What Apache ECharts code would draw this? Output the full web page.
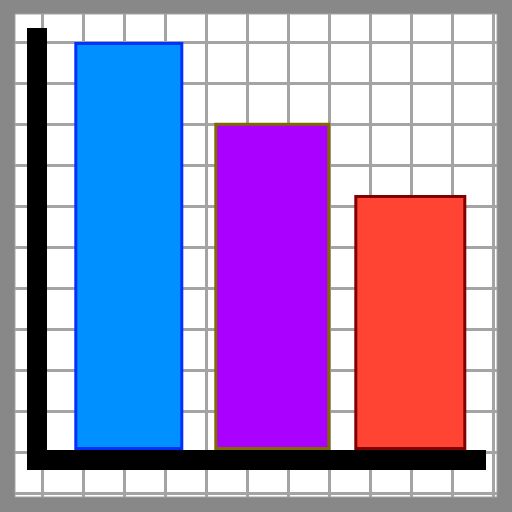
<!DOCTYPE html>
<html>
<head>
<meta charset="utf-8">
<script src="https://cdn.jsdelivr.net/npm/echarts@6/dist/echarts.min.js"></script>
<style>html,body{margin:0;padding:0;background:#888888;}#c{width:512px;height:512px;}</style>
</head>
<body>
<div id="c"></div>
<script>
var categories = ['A', 'B', 'C'];
var values = [9.95, 7.98, 6.22];
var fillColors = ['#0090FF', '#AA00FF', '#FF4433'];
var borderColors = ['#0030FF', '#7F6A00', '#800000'];
var barWidths = [109, 116, 112];
var gridCells = [0, 11];

var chart = echarts.init(document.getElementById('c'), null, {renderer: 'canvas'});
var lineAxis = function (grid, show) {
  return {gridIndex: grid, type: 'value', min: gridCells[0], max: gridCells[1], interval: 1, z: 0,
    axisLine: {show: false}, axisTick: {show: false}, axisLabel: {show: false},
    splitLine: {show: show, lineStyle: {color: '#a4a4a4', width: 3}}};
};
var series = values.map(function (v, i) {
  return {
    type: 'bar', xAxisIndex: 3, yAxisIndex: 3, z: 2,
    barWidth: barWidths[i], barGap: '-100%',
    itemStyle: {color: fillColors[i], borderColor: borderColors[i], borderWidth: 3},
    data: categories.map(function (c, j) { return j === i ? v : '-'; })
  };
});
chart.setOption({
  backgroundColor: '#888888',
  animation: false,
  grid: [
    {left: 15, top: 14, width: 482, height: 483, show: true, backgroundColor: '#ffffff', borderColor: '#a4a4a4', borderWidth: 1},
    {left: 42, top: 14, width: 451, height: 483},
    {left: 15, top: 42, width: 482, height: 451},
    {left: 60.3, top: 40, width: 420, bottom: 62},
    {left: 37, top: 38, right: 36, bottom: 52}
  ],
  xAxis: [
    {gridIndex: 0, type: 'value', show: false},
    lineAxis(1, true),
    lineAxis(2, false),
    {gridIndex: 3, type: 'category', data: categories, show: false},
    {gridIndex: 4, type: 'value', min: 0, max: 1, z: 10,
     axisLine: {show: true, lineStyle: {color: '#000000', width: 20, cap: 'square'}},
     axisTick: {show: false}, axisLabel: {show: false}, splitLine: {show: false}}
  ],
  yAxis: [
    {gridIndex: 0, type: 'value', show: false},
    lineAxis(1, false),
    lineAxis(2, true),
    {gridIndex: 3, type: 'value', min: 0, max: 10, show: false, splitLine: {show: false}},
    {gridIndex: 4, type: 'value', min: 0, max: 1, z: 10,
     axisLine: {show: true, lineStyle: {color: '#000000', width: 20, cap: 'square'}},
     axisTick: {show: false}, axisLabel: {show: false}, splitLine: {show: false}}
  ],
  series: series
});
</script>
</body>
</html>
